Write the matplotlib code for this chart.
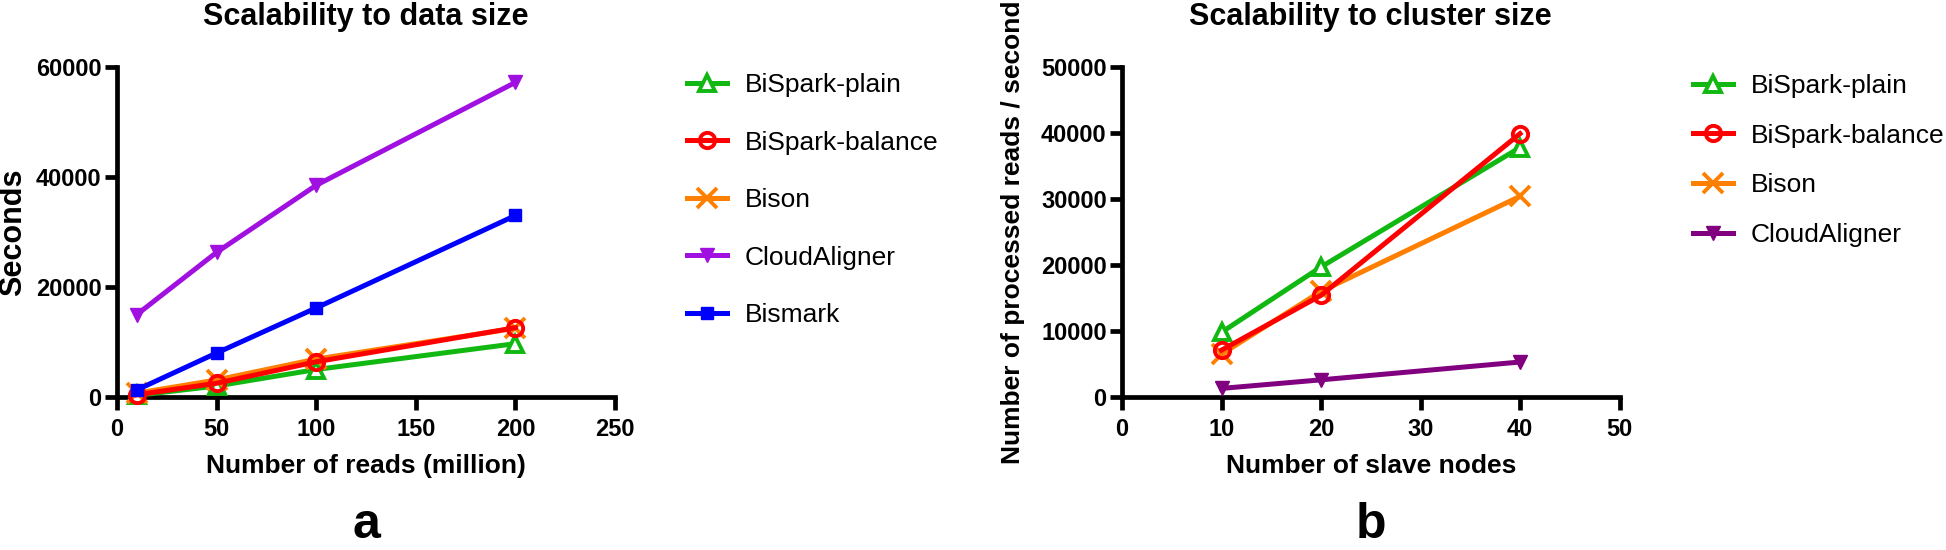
import matplotlib
matplotlib.use('Agg')
import matplotlib.pyplot as plt

plt.rcParams['font.family'] = ['Liberation Sans', 'DejaVu Sans']

# panel a: runtime vs number of reads
reads = [10, 50, 100, 200]
a_plain = [300, 2000, 5000, 9700]
a_balance = [400, 2500, 6400, 12600]
a_bison = [700, 3100, 6900, 12500]
a_cloud = [15000, 26300, 38500, 57200]
a_bismark = [1300, 8000, 16200, 33000]

# panel b: throughput vs number of slave nodes
nodes = [10, 20, 40]
b_plain = [9800, 19700, 37800]
b_balance = [7100, 15400, 39900]
b_bison = [6500, 16000, 30400]
b_cloud = [1300, 2600, 5300]

GREEN = '#11b811'
RED = '#ff0000'
ORANGE = '#ff8000'
PURPLE_A = '#a010e0'
PURPLE_B = '#800080'
BLUE = '#0000ff'

LW = 3.6
styles = {
    'BiSpark-plain': dict(color=GREEN, marker='^', ms=11, mfc='white', mew=2.8, zorder=3),
    'BiSpark-balance': dict(color=RED, marker='o', ms=11, mfc='none', mew=2.8, zorder=5),
    'Bison': dict(color=ORANGE, marker='x', ms=15, mew=2.8, zorder=4),
    'CloudAligner': dict(color=PURPLE_A, marker='v', ms=10, zorder=6),
    'Bismark': dict(color=BLUE, marker='s', ms=9, zorder=7),
}

fig = plt.figure(figsize=(19.46, 5.5), dpi=100)
ax1 = fig.add_axes([117 / 1946, 1 - 397 / 550, 498 / 1946, 330 / 550])
ax2 = fig.add_axes([1122 / 1946, 1 - 397 / 550, 497.5 / 1946, 330 / 550])


def style_axes(ax):
    for s in ['top', 'right']:
        ax.spines[s].set_visible(False)
    for s in ['left', 'bottom']:
        ax.spines[s].set_linewidth(3.4)
    ax.tick_params(width=3.4, length=9, labelsize=17, pad=2)
    ax.tick_params(axis='x', pad=6)
    for lab in ax.get_xticklabels() + ax.get_yticklabels():
        lab.set_fontweight('bold')


series_a = [('BiSpark-plain', a_plain), ('BiSpark-balance', a_balance),
            ('Bison', a_bison), ('CloudAligner', a_cloud), ('Bismark', a_bismark)]
for name, vals in series_a:
    ax1.plot(reads, vals, label=name, lw=LW, clip_on=False, **styles[name])

ax1.set_xlim(0, 250)
ax1.set_ylim(0, 60000)
ax1.set_xticks([0, 50, 100, 150, 200, 250])
ax1.set_yticks([0, 20000, 40000, 60000])
style_axes(ax1)
ax1.set_title('Scalability to data size', fontsize=22, fontweight='bold', pad=30)
ax1.set_xlabel('Number of reads (million)', fontsize=19, fontweight='bold')
ax1.set_ylabel('Seconds', fontsize=22, fontweight='bold')
ax1.xaxis.set_label_coords(0.5, -0.173)
ax1.yaxis.set_label_coords(-0.179, 0.5)
ax1.legend(loc='upper left', bbox_to_anchor=(687 / 1946, 1 - 73 / 550),
           bbox_transform=fig.transFigure, frameon=False, fontsize=19,
           handlelength=1.5, handletextpad=0.7, labelspacing=1.27,
           borderpad=0, borderaxespad=0, numpoints=1)

series_b = [('BiSpark-plain', b_plain), ('BiSpark-balance', b_balance),
            ('Bison', b_bison), ('CloudAligner', b_cloud)]
for name, vals in series_b:
    kw = dict(styles[name])
    if name == 'CloudAligner':
        kw['color'] = PURPLE_B
    ax2.plot(nodes, vals, label=name, lw=LW, clip_on=False, **kw)

ax2.set_xlim(0, 50)
ax2.set_ylim(0, 50000)
ax2.set_xticks([0, 10, 20, 30, 40, 50])
ax2.set_yticks([0, 10000, 20000, 30000, 40000, 50000])
style_axes(ax2)
ax2.set_title('Scalability to cluster size', fontsize=22, fontweight='bold', pad=30)
ax2.set_xlabel('Number of slave nodes', fontsize=19, fontweight='bold')
ax2.set_ylabel('Number of processed reads / second', fontsize=19, fontweight='bold')
ax2.xaxis.set_label_coords(0.5, -0.173)
ax2.yaxis.set_label_coords(-0.195, 0.5)
ax2.legend(loc='upper left', bbox_to_anchor=(1693 / 1946, 1 - 74 / 550),
           bbox_transform=fig.transFigure, frameon=False, fontsize=19,
           handlelength=1.5, handletextpad=0.7, labelspacing=0.97,
           borderpad=0, borderaxespad=0, numpoints=1)

fig.text((117 + 249) / 1946, 2 / 550, 'a', fontsize=36, fontweight='bold',
         ha='center', va='bottom')
fig.text((1122 + 249) / 1946, 2 / 550, 'b', fontsize=36, fontweight='bold',
         ha='center', va='bottom')

fig.savefig('out.png', dpi=100)
